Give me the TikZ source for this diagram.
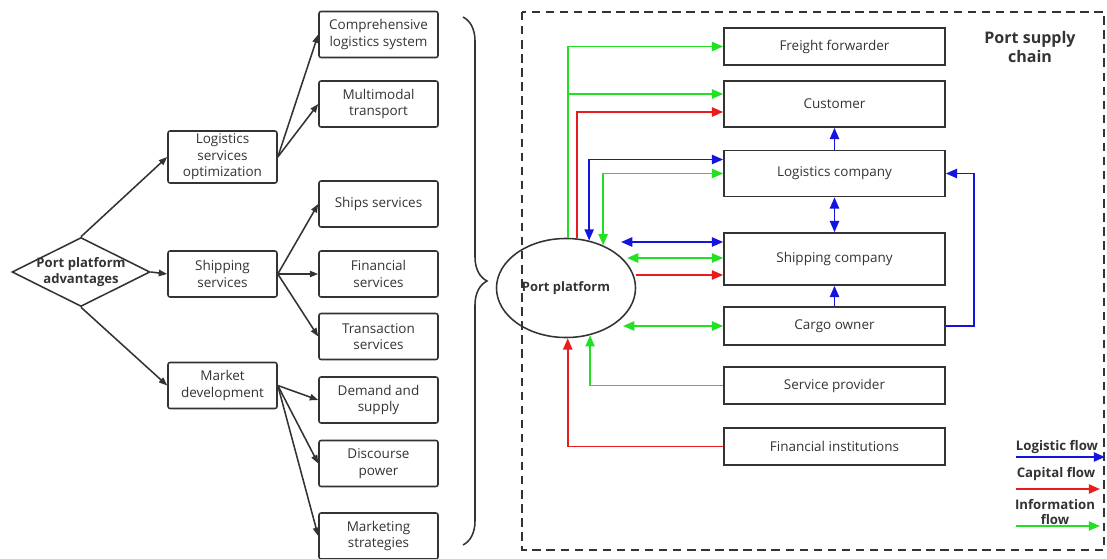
\documentclass[tikz,border=0pt]{standalone}
\usepackage{fontspec}
\setmainfont{Open Sans}
\usetikzlibrary{arrows.meta, shapes.geometric, decorations.pathreplacing}
\definecolor{edgeColor}{RGB}{51, 51, 51}
\definecolor{logColor}{RGB}{20, 20, 225}
\definecolor{capColor}{RGB}{232, 28, 28}
\definecolor{infoColor}{RGB}{34, 224, 34}

\begin{document}
\begin{tikzpicture}[
  x=0.025cm, y=-0.025cm,
  every node/.style={font=\fontsize{9.6}{11.7}\selectfont, text=edgeColor, align=center, inner sep=1pt},
  leftbox/.style={draw=edgeColor, line width=1.1pt, rounded corners=1.5pt, minimum width=2.725cm, minimum height=1.15cm},
  rightbox/.style={draw=edgeColor, line width=1.1pt, minimum width=5.525cm, minimum height=0.925cm},
  branch/.style={draw=edgeColor, line width=1.1pt, -{Triangle[length=6pt, width=4.5pt]}},
  flowtip/.style={line width=1.4pt, -{Triangle[length=8pt, width=6.5pt]}},
  logflow/.style={flowtip, draw=logColor},
  capflow/.style={flowtip, draw=capColor},
  infoflow/.style={flowtip, draw=infoColor},
  twoway/.style={{Triangle[length=8pt, width=6.5pt]}-{Triangle[length=8pt, width=6.5pt]}},
  legendtext/.style={font=\fontsize{9.4}{11.2}\selectfont\bfseries}
]
\useasboundingbox (0,0) rectangle (1107,559);

% port platform advantages
\node[diamond, draw=edgeColor, line width=1.1pt, aspect=2, inner sep=0pt,
  minimum width=3.45cm, minimum height=1.725cm] (adv) at (81,272) {};
\node[font=\fontsize{9.3}{11}\selectfont\bfseries] at (adv) {Port platform\\advantages};

\node[leftbox, minimum height=1.3cm] (lso) at (222.5,157) {Logistics\\services\\optimization};
\node[leftbox] (shs) at (222.5,274) {Shipping\\services};
\node[leftbox] (mkt) at (222.5,385.5) {Market\\development};

\node[leftbox, minimum width=2.975cm] (comp) at (378.5,34.5) {Comprehensive\\logistics system};
\node[leftbox, minimum width=2.975cm] (multi) at (378.5,104) {Multimodal\\transport};
\node[leftbox, minimum width=2.975cm] (ships) at (378.5,204) {Ships services};
\node[leftbox, minimum width=2.975cm] (finsv) at (378.5,274) {Financial\\services};
\node[leftbox, minimum width=2.975cm] (trans) at (378.5,336.5) {Transaction\\services};
\node[leftbox, minimum width=2.975cm] (dem) at (378.5,400) {Demand and\\supply};
\node[leftbox, minimum width=2.975cm] (disc) at (378.5,463.5) {Discourse\\power};
\node[leftbox, minimum width=2.975cm] (mktg) at (378.5,536) {Marketing\\strategies};

\draw[branch] (adv.north) -- (lso.west);
\draw[branch] (adv.east) -- (shs.west);
\draw[branch] (adv.south) -- (mkt.west);
\draw[branch] (lso.east) -- (comp.west);
\draw[branch] (lso.east) -- (multi.west);
\draw[branch] (shs.east) -- (ships.west);
\draw[branch] (shs.east) -- (finsv.west);
\draw[branch] (shs.east) -- (trans.west);
\draw[branch] (mkt.east) -- (dem.west);
\draw[branch] (mkt.east) -- (disc.west);
\draw[branch] (mkt.east) -- (mktg.west);

\draw[draw=edgeColor, line width=1.1pt, decorate, decoration={brace, amplitude=0.6cm}]
  (463,17) -- (463,545);

% port supply chain
\draw[draw=edgeColor, line width=1.2pt, dash pattern=on 6pt off 4pt] (522,12) rectangle (1104,550);
\node[font=\fontsize{11.4}{13.5}\selectfont\bfseries] (title) at (1030,47) {Port supply\\chain};

\node[ellipse, draw=edgeColor, line width=1.1pt, inner sep=0pt,
  minimum width=3.475cm, minimum height=2.475cm, font=\fontsize{9.2}{11}\selectfont\bfseries] (port) at (566,288) {Port platform};

\node[rightbox] (freight) at (834.5,46.5) {Freight forwarder};
\node[rightbox, minimum height=1.15cm] (cust) at (834.5,104) {Customer};
\node[rightbox, minimum height=1.15cm] (logi) at (834.5,173.5) {Logistics company};
\node[rightbox, minimum height=1.3cm] (ship) at (834.5,259) {Shipping company};
\node[rightbox, minimum height=0.95cm] (cargo) at (834.5,326) {Cargo owner};
\node[rightbox] (serv) at (834.5,385.5) {Service provider};
\node[rightbox] (fininst) at (834.5,446.5) {Financial institutions};

\coordinate (pblue) at (621,242);
\coordinate (pgreen) at (627,258);
\coordinate (pred) at (636,275);
\coordinate (pcargo) at (623,326);

\draw[infoflow] (port.88) |- (freight.west);
\draw[infoflow] (port.88) |- ([yshift=0.25cm]cust.west);
\draw[capflow] (port.77) |- ([yshift=-0.2cm]cust.west);
\draw[logflow, twoway] ([yshift=0.35cm]logi.west) -| (port.64);
\draw[infoflow, twoway] (logi.west) -| (port.49);
\draw[logflow, twoway] (pblue) -- (pblue -| ship.west);
\draw[infoflow, twoway] (pgreen) -- (pgreen -| ship.west);
\draw[capflow] (pred) -- (pred -| ship.west);
\draw[infoflow, twoway] (pcargo) -- (cargo.west);
\draw[infoflow] (serv.west) -| (port.-63);
\draw[capflow] (fininst.west) -| (port.-88);

\draw[logflow] (logi.north) -- (cust.south);
\draw[logflow, twoway] (logi.south) -- (ship.north);
\draw[logflow] (cargo.north) -- (ship.south);
\draw[logflow] (cargo.east) -- ++(28,0) |- (logi.east);

% legend
\node[legendtext] (leglog) at (1057,447) {Logistic flow};
\node[legendtext] (legcap) at (1056,474) {Capital flow};
\node[legendtext] (leginfo) at (1055,512) {Information\\flow};
\coordinate (loga) at (1016,457);
\coordinate (logb) at (1105,457);
\coordinate (capa) at (1016,489);
\coordinate (capb) at (1100,489);
\coordinate (infoa) at (1016,526);
\coordinate (infob) at (1100,526);
\draw[logflow] (loga) -- (logb);
\draw[capflow] (capa) -- (capb);
\draw[infoflow] (infoa) -- (infob);
\end{tikzpicture}
\end{document}
